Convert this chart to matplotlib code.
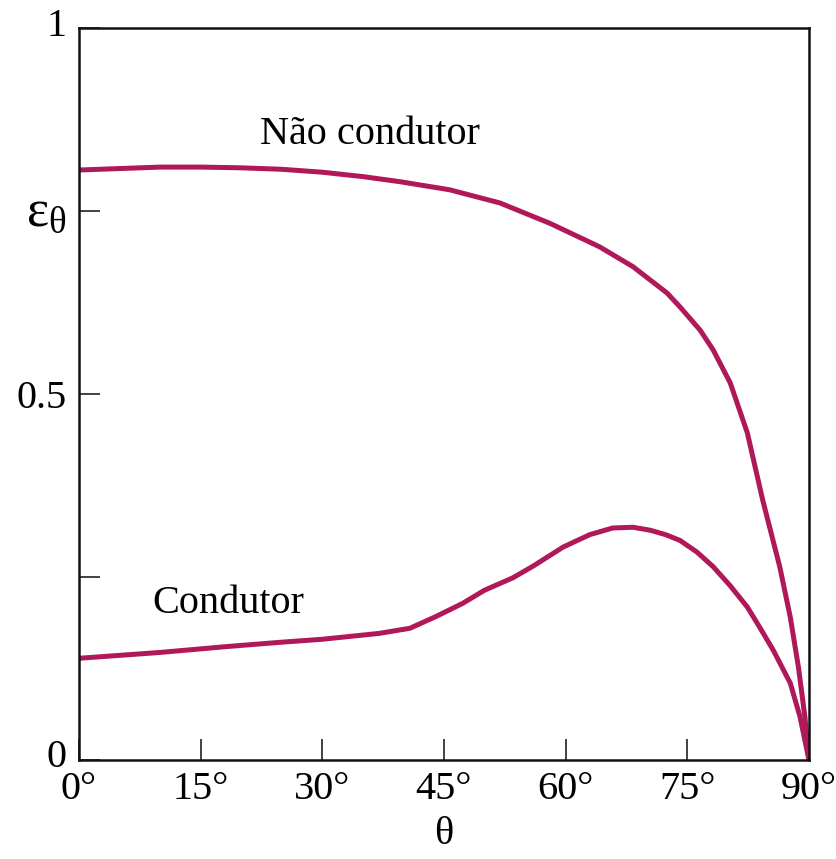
import matplotlib
matplotlib.use("Agg")
import matplotlib.pyplot as plt
from matplotlib.transforms import ScaledTranslation

plt.rcParams['font.family'] = ['Liberation Serif', 'DejaVu Serif']
plt.rcParams['mathtext.fontset'] = 'custom'
plt.rcParams['mathtext.rm'] = 'Liberation Serif'

# angles (deg) and directional emissivity
theta_nc = [0, 5, 10, 15, 20, 25, 30, 35, 39.6, 45.7, 51.9, 58.1, 64.2, 68.3, 72.5, 74.1,
            76.6, 78.2, 80.3, 82.4, 84.3, 86.4, 87.7, 88.7, 89.5, 90]
eps_nc = [0.806, 0.808, 0.810, 0.810, 0.809, 0.807, 0.803, 0.797, 0.790, 0.779, 0.761, 0.733,
          0.701, 0.674, 0.638, 0.619, 0.587, 0.560, 0.515, 0.447, 0.355, 0.264, 0.195, 0.127,
          0.059, 0.0]

theta_c = [0, 10, 18.2, 25, 30, 37, 40.8, 44, 47.3, 50, 53.5, 56, 59.7, 63, 65.8, 68.3, 70.4,
           72.3, 74.1, 76.2, 78.2, 80.3, 82.4, 84.0, 85.6, 87.7, 88.9, 90]
eps_c = [0.139, 0.147, 0.155, 0.161, 0.165, 0.173, 0.180, 0.196, 0.214, 0.232, 0.249, 0.265,
         0.291, 0.308, 0.317, 0.318, 0.314, 0.308, 0.300, 0.284, 0.264, 0.238, 0.209, 0.180,
         0.150, 0.105, 0.059, 0.0]

xticks = [0, 15, 30, 45, 60, 75, 90]
xticklabels = ['0°', '15°', '30°', '45°', '60°', '75°', '90°']
yticks = [0, 0.25, 0.5, 0.75, 1]
yticklabels = ['0', '', '0.5', r'$\mathregular{ε_θ}$', '1']

color = '#B0185A'

fig = plt.figure(figsize=(8.37, 8.59), dpi=100)
ax = fig.add_axes([0.0944, 0.1152, 0.8721, 0.8522])

ax.plot(theta_nc, eps_nc, color=color, lw=3.6, solid_capstyle='round', solid_joinstyle='round')
ax.plot(theta_c, eps_c, color=color, lw=3.6, solid_capstyle='round', solid_joinstyle='round')

ax.set_xlim(0, 90)
ax.set_ylim(0, 1)
ax.set_xticks(xticks)
ax.set_xticklabels(xticklabels)
ax.set_yticks(yticks)
ax.set_yticklabels(yticklabels)
ax.tick_params(direction='in', length=15, width=1.2, labelsize=29, color='#222222')
ax.tick_params(axis='x', pad=8)
ax.tick_params(axis='y', pad=9)
for s in ax.spines.values():
    s.set_linewidth(1.8)
    s.set_color('#111111')

# nudge the y labels a bit like in the original
ylabs = ax.get_yticklabels()
ylabs[0].set_transform(ylabs[0].get_transform() + ScaledTranslation(0, 5 / 72, fig.dpi_scale_trans))
ylabs[4].set_transform(ylabs[4].get_transform() + ScaledTranslation(0, 4 / 72, fig.dpi_scale_trans))
ylabs[3].set_fontsize(38)
ylabs[3].set_transform(ylabs[3].get_transform() + ScaledTranslation(0, 3 / 72, fig.dpi_scale_trans))

ax.set_xlabel('θ', fontsize=29, labelpad=6)

ax.text(35.9, 0.854, 'Não condutor', fontsize=29, ha='center', va='center')
ax.text(18.4, 0.214, 'Condutor', fontsize=29, ha='center', va='center')

fig.savefig('out.png', dpi=100)
